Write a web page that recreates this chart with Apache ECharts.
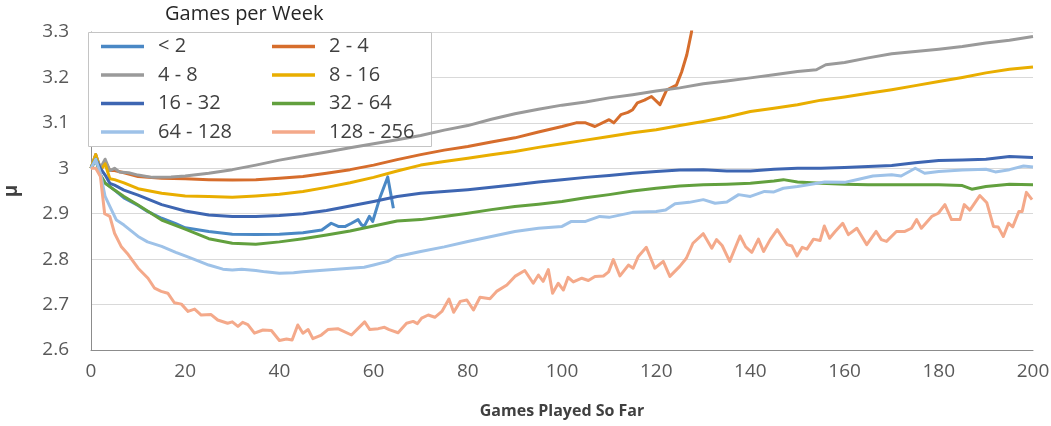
<!DOCTYPE html>
<html>
<head>
<meta charset="utf-8">
<script src="https://cdn.jsdelivr.net/npm/echarts@6/dist/echarts.min.js"></script>
<style>
  html, body { margin: 0; padding: 0; background: #fff; }
  #chart { width: 1051px; height: 426px; }
</style>
</head>
<body>
<div id="chart"></div>
<script>
// x = games played so far, y = mu
const seriesNames = ['< 2', '2 - 4', '4 - 8', '8 - 16', '16 - 32', '32 - 64', '64 - 128', '128 - 256'];
const colors = ['#4a88c5', '#d66d2c', '#9a9a9a', '#e9ae00', '#3e66b2', '#62a03e', '#9ec2e8', '#f4a98a'];

const lt2 = [[0,3.0],[1,3.02],[2,2.985],[3,2.968],[5,2.952],[7,2.935],[10,2.918],[12,2.905],[15,2.89],[18,2.878],[20,2.869],[25,2.861],[30,2.855],[35,2.854],[40,2.855],[45,2.858],[49,2.864],[51,2.879],[52.5,2.872],[54,2.872],[55.3,2.879],[56.7,2.887],[57.4,2.876],[58,2.872],[59.1,2.894],[59.8,2.883],[61.4,2.937],[63,2.981],[64.2,2.912]];

const g2to4 = [[0,3.0],[1,3.03],[2,3.0],[3,3.015],[4,2.995],[5,2.995],[7,2.99],[10,2.982],[15,2.978],[20,2.977],[25,2.975],[30,2.974],[35,2.975],[40,2.978],[45,2.982],[50,2.989],[55,2.997],[60,3.007],[65,3.019],[70,3.03],[75,3.04],[80,3.048],[85,3.058],[90,3.067],[95,3.08],[100,3.092],[103,3.1],[105,3.1],[107,3.092],[110,3.107],[111,3.1],[112.5,3.118],[114,3.123],[115,3.129],[116,3.144],[117.5,3.15],[119,3.158],[120.8,3.14],[122.2,3.172],[124.3,3.183],[125.4,3.212],[126.5,3.25],[127.5,3.3],[128.2,3.4]];

const g4to8 = [[0,3.0],[1,3.03],[2,3.0],[3,3.02],[4,2.995],[5,3.0],[6,2.992],[8,2.99],[10,2.985],[13,2.98],[17,2.981],[20,2.983],[25,2.989],[30,2.997],[35,3.007],[40,3.018],[45,3.027],[50,3.036],[55,3.045],[60,3.054],[65,3.063],[70,3.072],[75,3.084],[80,3.094],[85,3.108],[90,3.12],[95,3.13],[100,3.139],[105,3.146],[110,3.155],[115,3.162],[120,3.17],[125,3.177],[130,3.186],[135,3.192],[140,3.199],[145,3.206],[150,3.213],[154,3.217],[156,3.228],[160,3.233],[165,3.243],[170,3.252],[175,3.257],[180,3.262],[185,3.268],[190,3.276],[195,3.282],[200,3.29]];

const g8to16 = [[0,3.0],[1,3.03],[2,2.995],[3,3.01],[4,2.977],[5,2.975],[7,2.968],[10,2.955],[15,2.945],[20,2.939],[25,2.938],[30,2.936],[35,2.939],[40,2.943],[45,2.949],[50,2.958],[55,2.968],[60,2.98],[65,2.994],[70,3.007],[75,3.015],[80,3.022],[85,3.03],[90,3.037],[95,3.046],[100,3.054],[105,3.062],[110,3.07],[115,3.078],[120,3.085],[125,3.094],[130,3.103],[135,3.113],[140,3.125],[145,3.132],[150,3.14],[155,3.15],[160,3.157],[165,3.165],[170,3.173],[175,3.182],[180,3.191],[185,3.2],[190,3.21],[195,3.218],[200,3.223]];

const g16to32 = [[0,3.0],[1,3.02],[2,3.0],[3,2.985],[4,2.967],[5,2.963],[7,2.952],[10,2.941],[15,2.92],[20,2.906],[25,2.897],[30,2.894],[35,2.894],[40,2.896],[45,2.9],[50,2.907],[55,2.917],[60,2.927],[65,2.938],[70,2.945],[75,2.949],[80,2.953],[85,2.958],[90,2.964],[95,2.97],[100,2.975],[105,2.98],[110,2.984],[115,2.989],[120,2.993],[125,2.996],[130,2.997],[135,2.994],[140,2.994],[145,2.998],[150,3.0],[155,3.0],[160,3.002],[165,3.004],[170,3.006],[175,3.012],[180,3.017],[185,3.018],[190,3.02],[195,3.026],[200,3.024]];

const g32to64 = [[0,3.0],[1,3.02],[2,2.985],[3,2.967],[5,2.952],[7,2.938],[10,2.919],[15,2.886],[20,2.866],[25,2.845],[30,2.835],[35,2.833],[40,2.838],[45,2.845],[50,2.853],[55,2.862],[60,2.873],[65,2.884],[70,2.887],[75,2.894],[80,2.901],[85,2.909],[90,2.916],[95,2.921],[100,2.927],[105,2.935],[110,2.942],[115,2.95],[120,2.956],[125,2.961],[130,2.964],[135,2.965],[140,2.967],[145,2.972],[147,2.975],[150,2.97],[155,2.967],[160,2.965],[165,2.964],[170,2.964],[175,2.964],[180,2.964],[185,2.962],[187,2.954],[190,2.96],[195,2.965],[200,2.964]];

const g64to128 = [[0,3.0],[1,3.02],[2,2.989],[3,2.938],[4,2.916],[5.4,2.886],[7,2.875],[10,2.85],[12,2.838],[15,2.828],[18,2.815],[20,2.807],[23,2.795],[25,2.787],[28,2.778],[30,2.776],[32,2.778],[35,2.775],[37,2.772],[40,2.769],[43,2.77],[45,2.772],[50,2.776],[55,2.78],[58,2.782],[60,2.787],[63,2.795],[65,2.806],[70,2.817],[75,2.827],[80,2.839],[85,2.85],[90,2.861],[95,2.868],[100,2.872],[102,2.883],[105,2.883],[108,2.894],[110,2.892],[115,2.903],[120,2.905],[122,2.908],[124,2.922],[127,2.925],[130,2.931],[132.5,2.923],[135,2.926],[137.5,2.942],[140,2.938],[143,2.949],[145,2.948],[147,2.956],[150,2.96],[155.8,2.97],[160,2.969],[163,2.976],[166,2.983],[170,2.986],[172,2.983],[175,3.0],[177,2.989],[180,2.993],[185,2.996],[190,2.998],[192,2.992],[195,2.997],[198,3.005],[200,3.003]];

const g128to256 = [[0,3.0],[1,3.0],[2,2.982],[2.9,2.9],[4,2.894],[5,2.857],[6.4,2.828],[7.9,2.81],[10,2.78],[12.1,2.758],[13.5,2.736],[14.9,2.729],[16.3,2.725],[17.7,2.704],[19.2,2.701],[20.6,2.685],[22,2.69],[23.4,2.677],[25.5,2.678],[26.9,2.666],[29,2.659],[30,2.662],[31.2,2.652],[32.2,2.661],[33.3,2.656],[34.7,2.637],[36.5,2.644],[38.3,2.643],[40,2.621],[41.5,2.624],[42.7,2.622],[43.9,2.655],[45,2.637],[46.1,2.645],[47.1,2.625],[48.9,2.633],[50.3,2.645],[52.4,2.647],[55.3,2.633],[58.1,2.662],[59.2,2.645],[61,2.647],[62.3,2.65],[63.3,2.645],[65.2,2.638],[67,2.659],[68.4,2.663],[69.3,2.658],[70.2,2.67],[71.6,2.677],[73,2.672],[74.5,2.685],[76,2.712],[77,2.683],[78.4,2.707],[79.8,2.71],[81.2,2.688],[82.6,2.716],[84.7,2.713],[86.1,2.729],[88.3,2.743],[90,2.762],[92.1,2.775],[93.9,2.747],[95,2.765],[96,2.751],[97.1,2.777],[98,2.725],[99.2,2.747],[100.3,2.732],[101.3,2.76],[102.4,2.75],[104.2,2.758],[105.6,2.753],[107,2.762],[108.8,2.763],[109.9,2.772],[110.9,2.799],[112.3,2.763],[114.1,2.787],[115.1,2.78],[116.2,2.806],[117.9,2.826],[119.7,2.78],[121.5,2.795],[122.9,2.762],[125,2.784],[126.4,2.802],[127.8,2.835],[130,2.856],[131.8,2.824],[132.8,2.843],[134,2.83],[135.6,2.795],[137.8,2.851],[139,2.827],[140.3,2.815],[141.7,2.844],[142.8,2.817],[144.2,2.843],[145.7,2.865],[147.8,2.832],[148.8,2.829],[149.9,2.807],[151,2.826],[152,2.822],[153.4,2.844],[154.8,2.841],[155.7,2.873],[156.8,2.846],[158,2.861],[159.6,2.879],[160.8,2.854],[162.6,2.868],[164.7,2.832],[166.7,2.861],[167.8,2.843],[168.9,2.839],[171,2.861],[172.8,2.861],[174.2,2.868],[175.3,2.887],[176.3,2.868],[178.5,2.894],[179.9,2.901],[181.3,2.92],[182.7,2.887],[184.5,2.887],[185.4,2.92],[186.6,2.908],[188.7,2.94],[190.2,2.924],[191.6,2.872],[192.6,2.871],[193.7,2.85],[194.8,2.879],[195.7,2.871],[197,2.905],[197.7,2.905],[198.6,2.947],[199.8,2.931]];

const allData = [lt2, g2to4, g4to8, g8to16, g16to32, g32to64, g64to128, g128to256];

const FONT = '"Open Sans", "Liberation Sans", sans-serif';

const chart = echarts.init(document.getElementById('chart'), null, { renderer: 'canvas' });

const legendCommon = {
  orient: 'vertical',
  top: 36.5,
  icon: 'rect',
  itemWidth: 43,
  itemHeight: 3.5,
  itemGap: 8.5,
  padding: 0,
  textStyle: { fontFamily: FONT, fontSize: 20, color: '#404040', lineHeight: 20, padding: [0, 0, 0, 9] }
};

chart.setOption({
  animation: false,
  color: colors,
  title: {
    text: 'Games per Week',
    left: 165,
    top: 4,
    padding: 0,
    textStyle: { fontFamily: FONT, fontSize: 20, fontWeight: 'normal', color: '#262626' }
  },
  graphic: [{
    type: 'rect',
    z: 3,
    shape: { x: 88.5, y: 32.5, width: 343, height: 114 },
    style: { fill: '#fff', stroke: '#c4c4c4', lineWidth: 1 }
  }],
  legend: [
    Object.assign({ left: 101, data: ['< 2', '4 - 8', '16 - 32', '64 - 128'] }, legendCommon),
    Object.assign({ left: 272, data: ['2 - 4', '8 - 16', '32 - 64', '128 - 256'] }, legendCommon)
  ],
  grid: { left: 91, right: 18, top: 32, bottom: 76, outerBoundsMode: 'none', containLabel: false },
  xAxis: {
    type: 'value',
    min: 0, max: 200, interval: 20,
    name: 'Games Played So Far',
    nameLocation: 'middle',
    nameGap: 53,
    nameTextStyle: { fontFamily: FONT, fontSize: 16, fontWeight: 'bold', color: '#404040' },
    axisLine: { lineStyle: { color: '#8c8c8c', width: 1 } },
    axisTick: { show: false },
    axisLabel: { fontFamily: FONT, fontSize: 19, color: '#595959', margin: 12 },
    splitLine: { show: false }
  },
  yAxis: {
    type: 'value',
    min: 2.6, max: 3.3, interval: 0.1,
    name: 'μ',
    nameLocation: 'middle',
    nameRotate: 90,
    nameGap: 70,
    nameTextStyle: { fontFamily: FONT, fontSize: 19, fontWeight: 'bold', color: '#404040' },
    axisLine: { show: true, lineStyle: { color: '#8c8c8c', width: 1 } },
    axisTick: { show: false },
    axisLabel: {
      fontFamily: FONT, fontSize: 19, color: '#595959', margin: 22,
      formatter: v => String(parseFloat(v.toFixed(1)))
    },
    splitLine: { lineStyle: { color: '#d9d9d9', width: 1 } }
  },
  series: seriesNames.map((name, i) => ({
    name: name,
    type: 'line',
    data: allData[i],
    showSymbol: false,
    symbol: 'none',
    clip: true,
    lineStyle: { width: 3, color: colors[i], join: 'round' },
    emphasis: { disabled: true }
  }))
});
</script>
</body>
</html>
